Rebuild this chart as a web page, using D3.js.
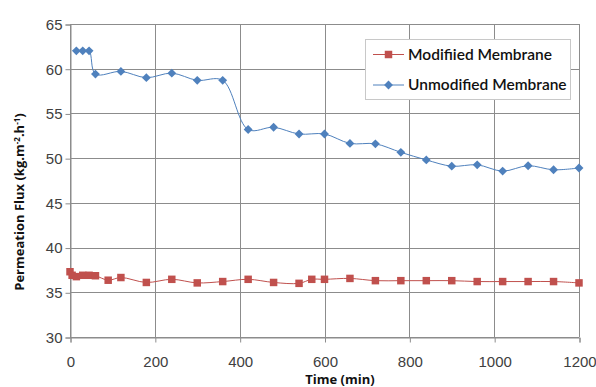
<!DOCTYPE html>
<html>
<head>
<meta charset="utf-8">
<script src="https://cdn.jsdelivr.net/npm/d3@7/dist/d3.min.js"></script>
<style>
  body { margin: 0; padding: 0; background: #fff; }
  svg { display: block; }
  .tick text { font-family: "Liberation Sans", Arial, sans-serif; font-size: 15px; fill: #404040; }
</style>
</head>
<body>
<svg id="chart" width="596" height="387"></svg>
<script>
// data
var modTime = [0, 5, 15, 30, 45, 60, 90, 120, 180, 240, 300, 360, 420, 480, 540, 570, 600, 660, 720, 780, 840, 900, 960, 1020, 1080, 1140, 1200];
var modFlux = [37.3, 36.9, 36.75, 36.9, 36.9, 36.85, 36.35, 36.65, 36.1, 36.45, 36.05, 36.2, 36.45, 36.1, 36.0, 36.45, 36.45, 36.55, 36.3, 36.3, 36.3, 36.3, 36.2, 36.2, 36.2, 36.2, 36.05];
var unmodTime = [15, 30, 45, 60, 120, 180, 240, 300, 360, 420, 480, 540, 600, 660, 720, 780, 840, 900, 960, 1020, 1080, 1140, 1200];
var unmodFlux = [62.0, 62.0, 62.0, 59.4, 59.7, 59.0, 59.5, 58.7, 58.7, 53.2, 53.45, 52.7, 52.7, 51.65, 51.6, 50.65, 49.8, 49.1, 49.25, 48.55, 49.15, 48.7, 48.9];
var xTicks = [0, 200, 400, 600, 800, 1000, 1200];
var yTicks = [30, 35, 40, 45, 50, 55, 60, 65];
var seriesNames = ["Modifiied Membrane", "Unmodified Membrane"];

var svg = d3.select('#chart');
var pl = 70, pr = 579, pt = 24, pb = 337;

var x = d3.scaleLinear().domain([0, 1200]).range([pl, pr]);
var y = d3.scaleLinear().domain([30, 65]).range([pb, pt]);

// gridlines
svg.append('g').selectAll('line').data(yTicks).join('line')
  .attr('x1', pl).attr('x2', pr)
  .attr('y1', function(d){ return Math.round(y(d)) + 0.5; })
  .attr('y2', function(d){ return Math.round(y(d)) + 0.5; })
  .attr('stroke', '#8c8c8c');
svg.append('g').selectAll('line').data(xTicks).join('line')
  .attr('y1', pt).attr('y2', pb)
  .attr('x1', function(d){ return Math.round(x(d)) + 0.5; })
  .attr('x2', function(d){ return Math.round(x(d)) + 0.5; })
  .attr('stroke', '#8c8c8c');

// axes
var yAxis = svg.append('g').attr('transform', 'translate(' + (pl + 0.5) + ',0.5)')
  .call(d3.axisLeft(y).tickValues(yTicks).tickFormat(d3.format('d')).tickSize(5).tickPadding(3));
var xAxis = svg.append('g').attr('transform', 'translate(0.5,' + (pb + 0.5) + ')')
  .call(d3.axisBottom(x).tickValues(xTicks).tickFormat(d3.format('d')).tickSize(5).tickPadding(14));
[yAxis, xAxis].forEach(function(a){
  a.select('.domain').attr('stroke', '#8c8c8c');
  a.selectAll('.tick line').attr('stroke', '#8c8c8c');
});

// lines
var line = d3.line().curve(d3.curveCatmullRom.alpha(0.5))
  .x(function(d){ return x(d[0]); })
  .y(function(d){ return y(d[1]); });

var modPts = d3.zip(modTime, modFlux);
var unmodPts = d3.zip(unmodTime, unmodFlux);

svg.append('path').datum(modPts).attr('d', line)
  .attr('fill', 'none').attr('stroke', '#C0504D').attr('stroke-width', 1);
svg.append('path').datum(unmodPts).attr('d', line)
  .attr('fill', 'none').attr('stroke', '#4F81BD').attr('stroke-width', 1);

var square = d3.symbol().type(d3.symbolSquare).size(56);
var diamond = d3.symbol().type(d3.symbolDiamond2).size(50);

svg.append('g').selectAll('path').data(modPts).join('path')
  .attr('d', square)
  .attr('transform', function(d){ return 'translate(' + x(d[0]) + ',' + y(d[1]) + ')'; })
  .attr('fill', '#C0504D');
svg.append('g').selectAll('path').data(unmodPts).join('path')
  .attr('d', diamond)
  .attr('transform', function(d){ return 'translate(' + x(d[0]) + ',' + y(d[1]) + ')'; })
  .attr('fill', '#4F81BD');

// axis titles
svg.append('text')
  .attr('transform', 'translate(24,' + 202 + ') rotate(-90)')
  .attr('text-anchor', 'middle')
  .style('font-family', '"Open Sans", "Liberation Sans", sans-serif')
  .style('font-weight', 'bold').style('font-size', '13px').attr('fill', '#111')
  .html('Permeation Flux (kg.m<tspan dy="-4" font-size="8">-2</tspan><tspan dy="4">.h</tspan><tspan dy="-4" font-size="8">-1</tspan><tspan dy="4">)</tspan>');

svg.append('text')
  .attr('x', 340).attr('y', 384)
  .attr('text-anchor', 'middle')
  .style('font-family', '"Open Sans", "Liberation Sans", sans-serif')
  .style('font-weight', 'bold').style('font-size', '13px').attr('fill', '#111')
  .text('Time (min)');

// legend
var lg = svg.append('g');
lg.append('rect').attr('x', 365.5).attr('y', 39.5).attr('width', 205).attr('height', 60)
  .attr('fill', '#fff').attr('stroke', '#c8c8c8');
var legendRows = [
  { name: seriesNames[0], color: '#C0504D', sym: square, yy: 54.5 },
  { name: seriesNames[1], color: '#4F81BD', sym: diamond, yy: 85 }
];
legendRows.forEach(function(r){
  lg.append('line').attr('x1', 373).attr('x2', 404).attr('y1', r.yy).attr('y2', r.yy)
    .attr('stroke', r.color);
  lg.append('path').attr('d', r.sym).attr('transform', 'translate(388.5,' + r.yy + ')')
    .attr('fill', r.color);
  lg.append('text').attr('x', 408).attr('y', r.yy + 5)
    .style('font-family', 'Lato, "Open Sans", sans-serif').style('font-size', '15.5px')
    .style('font-weight', '600')
    .attr('fill', '#111').text(r.name);
});
</script>
</body>
</html>
